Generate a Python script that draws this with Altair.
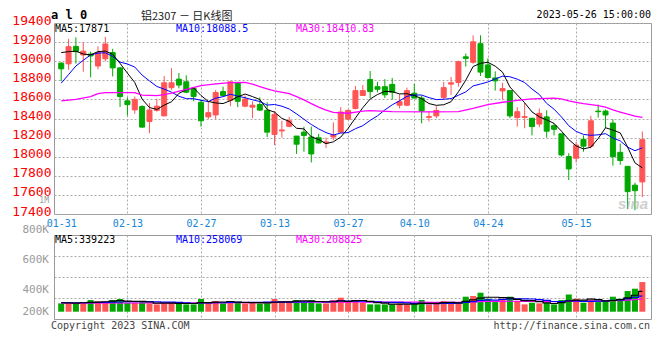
import altair as alt
import pandas as pd
import numpy as np

# ---------------- data ----------------
dates = ["01-31","02-01","02-02","02-03","02-06","02-07","02-08","02-09","02-10","02-13",
         "02-14","02-15","02-16","02-17","02-20","02-21","02-22","02-23","02-24","02-27",
         "02-28","03-01","03-02","03-03","03-06","03-07","03-08","03-09","03-10","03-13",
         "03-14","03-15","03-16","03-17","03-20","03-21","03-22","03-23","03-24","03-27",
         "03-28","03-29","03-30","03-31","04-03","04-04","04-06","04-07","04-10","04-11",
         "04-12","04-13","04-14","04-17","04-18","04-19","04-20","04-21","04-24","04-25",
         "04-26","04-27","04-28","05-04","05-05","05-08","05-09","05-10","05-11","05-12",
         "05-15","05-16","05-17","05-18","05-19","05-22","05-23","05-24","05-25","05-26"]

opens = [18980,18972,19155,19065,19075,18950,19025,19090,18930,18585,
         18490,18525,18369,18485,18427,18723,18812,18784,18716,18570,
         18417,18437,18682,18590,18774,18529,18519,18546,18485,18233,
         18270,18318,18216,18257,18206,18199,18145,18206,18257,18393,
         18505,18641,18808,18733,18733,18757,18539,18539,18665,18614,
         18412,18427,18621,18760,18777,19046,18989,19183,18961,18825,
         18689,18692,18410,18412,18403,18342,18417,18325,18240,18001,
         17984,18182,18110,18478,18478,18352,18046,17899,17702,17736]
highs = [18990,19234,19250,19200,19100,19155,19255,19130,18940,18620,
         18630,18540,18563,18608,18845,18927,18876,18852,18726,18597,
         18580,18699,18733,18791,18784,18641,18580,18621,18570,18478,
         18376,18417,18216,18314,18314,18240,18200,18359,18519,18495,
         18740,18750,18897,18784,18812,18825,18655,18723,18764,18641,
         18478,18529,18784,18835,19006,19080,19271,19271,19029,18893,
         18774,18692,18519,18563,18403,18505,18485,18349,18240,18036,
         18155,18223,18427,18546,18495,18393,18138,17899,17729,18264]
lows = [18790,18911,18975,18890,18830,18915,19000,18840,18520,18430,
        18450,18305,18247,18472,18427,18699,18716,18665,18580,18315,
        18393,18393,18641,18529,18519,18519,18403,18478,18206,18121,
        18199,18308,18029,18052,17940,18138,18090,18172,18257,18383,
        18495,18641,18614,18675,18614,18597,18505,18529,18614,18349,
        18369,18403,18597,18648,18733,18944,18972,18846,18818,18692,
        18597,18403,18315,18298,18223,18308,18199,18223,18001,17756,
        17940,18052,18086,18410,18301,17906,17916,17450,17440,17576]
closes = [18920,19152,19100,19105,19055,19090,19180,18930,18630,18545,
          18600,18310,18489,18529,18774,18774,18750,18675,18631,18376,
          18461,18672,18641,18784,18580,18604,18539,18488,18257,18444,
          18280,18376,18131,18223,18029,18144,18155,18229,18468,18485,
          18692,18692,18682,18706,18648,18675,18577,18692,18614,18478,
          18420,18485,18723,18774,18995,19029,19203,18886,18829,18794,
          18713,18427,18471,18420,18315,18454,18267,18287,18018,17872,
          18121,18110,18376,18471,18437,18001,17960,17634,17644,18178]
volumes = [140000,140000,140000,162000,196000,174000,162000,196000,213000,151000,
           151000,162000,140000,123000,140000,162000,140000,123000,123000,213000,
           162000,179000,140000,162000,162000,140000,162000,140000,140000,213000,
           174000,162000,196000,162000,196000,140000,140000,196000,235000,162000,
           196000,151000,123000,123000,123000,123000,140000,123000,123000,196000,
           123000,140000,179000,140000,162000,252000,263000,319000,218000,162000,
           218000,252000,179000,123000,151000,140000,151000,123000,196000,291000,
           218000,151000,196000,162000,179000,252000,218000,347000,386000,498000]

# moving-average values read where the visible closes cannot give them
ma5_head = [19090, 19100, 19105, 19075]
ma10_head = [18770, 18860, 18950, 19010, 19065, 19085, 19088, 19050, 18990]
ma30_idx = [0, 2, 4, 5, 6, 10, 11, 13, 14, 15, 17, 19, 21, 23, 25, 26, 27, 28, 29, 31,
            32, 33, 34, 35, 36, 37, 39, 41, 42, 45, 50, 54, 56, 58, 60, 62, 64, 67, 68, 69,
            70, 71, 72, 73, 74, 75, 76, 77, 78, 79]
ma30_val = [18585, 18600, 18630, 18660, 18670, 18670, 18645, 18640, 18650, 18665,
            18706, 18745, 18762, 18775, 18778, 18760, 18735, 18710, 18690, 18660,
            18630, 18595, 18555, 18520, 18488, 18465, 18455, 18478, 18482, 18472,
            18470, 18472, 18505, 18546, 18570, 18590, 18605, 18614, 18605, 18585,
            18570, 18555, 18545, 18535, 18520, 18490, 18468, 18445, 18425, 18411]
vma5_head = [150000, 148000, 145000, 150000]
vma10_head = [152000, 150000, 150000, 150000, 152000, 155000, 157000, 160000, 163000]
vma30_head_idx = [0, 14, 28]
vma30_head_val = [142000, 146000, 152000]

tick_dates = ["01-31", "02-13", "02-27", "03-13", "03-27", "04-10", "04-24", "05-15"]
price_ticks = [17400, 17600, 17800, 18000, 18200, 18400, 18600, 18800, 19000, 19200, 19400]
vol_lab_text = ["1M", "800K", "600K", "400K"]
vol_lab_vals = [1000000, 800000, 600000, 400000]
vol_lab_dy = [-1.5, -2, -2, -2]
vol_lab_size = [8, 11, 11, 11]

# ---------------- tables ----------------
n = len(dates)
df = pd.DataFrame({"idx": range(n), "date": dates, "open": opens, "high": highs,
                   "low": lows, "close": closes, "vol": volumes})
df["dir"] = np.where(df["close"] >= df["open"], "up", "down")
ma5 = df["close"].rolling(5).mean().to_numpy()
ma5[:4] = ma5_head
ma10 = df["close"].rolling(10).mean().to_numpy()
ma10[:9] = ma10_head
df["ma5"] = ma5
df["ma10"] = ma10
vma5 = df["vol"].rolling(5).mean().to_numpy()
vma5[:4] = vma5_head
vma10 = df["vol"].rolling(10).mean().to_numpy()
vma10[:9] = vma10_head
df["vma5"] = vma5
df["vma10"] = vma10
vma30_roll = df["vol"].rolling(30).mean()
vma30_df = pd.concat([
    pd.DataFrame({"idx": vma30_head_idx, "v": vma30_head_val}),
    pd.DataFrame({"idx": df["idx"][29:], "v": vma30_roll[29:]}),
], ignore_index=True)
ma30_df = pd.DataFrame({"idx": ma30_idx, "v": ma30_val})
tick_idx = [dates.index(d) for d in tick_dates]

# ---------------- styling ----------------
RED = "#FF5555"
GREEN = "#00A800"
GRID = "#ababab"
MONO = "DejaVu Sans Mono"
W = 597
H = 191
VH = 84

label_expr = " : ".join(f"datum.value == {i} ? '{dates[i]}'" for i in tick_idx) + " : ''"
grid_op = {"condition": {"test": "datum.value == 0", "value": 0}, "value": 1}

xscale = alt.Scale(domain=[-0.3, 79.5], nice=False, zero=False)
yscale = alt.Scale(domain=[17400, 19400], nice=False, zero=False)
color = alt.Color("dir:N", scale=alt.Scale(domain=["up", "down"], range=[RED, GREEN]), legend=None)
stroke = alt.Stroke("dir:N", scale=alt.Scale(domain=["up", "down"], range=[RED, GREEN]), legend=None)

xaxis_main = alt.Axis(values=tick_idx, labelExpr=label_expr, grid=True, gridDash=[2, 2],
                      gridColor=GRID, gridOpacity=grid_op, ticks=False, domain=False,
                      labelColor="#1585D8", labelFont=MONO, labelFontSize=10, labelPadding=4,
                      labelFlush=False, labelOverlap=False, title=None)
yaxis_main = alt.Axis(values=price_ticks, format="d", grid=True, gridDash=[2, 2], gridColor=GRID,
                      ticks=False, domain=False, labelColor="#FF0000", labelFont=MONO,
                      labelFontSize=13, labelPadding=3, labelOffset=-3, minExtent=45, maxExtent=45,
                      labelOverlap=False, labelFlush=False, title=None)
X = alt.X("idx:Q", scale=xscale, axis=xaxis_main)


def txt(text, x, y, col, size, align="left", font=MONO, weight="normal", **kw):
    return alt.Chart(pd.DataFrame({"t": [text]})).mark_text(
        align=align, baseline="middle", font=font, fontSize=size, fontWeight=weight,
        color=col, **kw).encode(x=alt.value(x), y=alt.value(y), text="t:N")


wicks = alt.Chart(df).mark_rule(strokeWidth=1).encode(
    x=X, y=alt.Y("low:Q", scale=yscale, axis=yaxis_main), y2="high:Q", color=color)
bodies = alt.Chart(df).mark_bar(size=5, strokeWidth=1).encode(
    x=X, y=alt.Y("open:Q", scale=yscale, axis=yaxis_main), y2="close:Q",
    color=color, stroke=stroke)
l5 = alt.Chart(df).mark_line(color="#000000", strokeWidth=1).encode(
    x=X, y=alt.Y("ma5:Q", scale=yscale, axis=yaxis_main))
l10 = alt.Chart(df).mark_line(color="#0000FF", strokeWidth=1).encode(
    x=X, y=alt.Y("ma10:Q", scale=yscale, axis=yaxis_main))
l30 = alt.Chart(ma30_df).mark_line(color="#FF00FF", strokeWidth=1.3).encode(
    x=X, y=alt.Y("v:Q", scale=yscale, axis=yaxis_main))

main = alt.layer(
    wicks, bodies, l10, l5, l30,
    txt("MA5:17871", 1, 6, "#000000", 10),
    txt("MA10:18088.5", 122, 6, "#0000FF", 10),
    txt("MA30:18410.83", 242, 6, "#FF00FF", 10),
    txt("a l 0", -3, -8, "#000000", 12, weight="bold"),
    txt("铝2307 － 日K线图", 87, -6.5, "#222222", 11, font="Noto Sans CJK SC"),
    txt("2023-05-26 15:00:00", W, -8, "#000000", 10, align="right"),
    txt("sina", W - 18, H - 10, "#b0b0b0", 15, align="center", font="Liberation Sans",
        weight="bold", fontStyle="italic", opacity=0.6),
).properties(width=W, height=H)

# ---------------- volume panel ----------------
vscale = alt.Scale(domain=[-122600, 1288600], nice=False, zero=False)
yaxis_vol = alt.Axis(values=[230200, 583000, 935800], grid=True, gridDash=[2, 2],
                     gridColor=GRID, labels=False, ticks=False, domain=False, title=None,
                     minExtent=45, maxExtent=45)
xaxis_vol = alt.Axis(values=tick_idx, grid=True, gridDash=[2, 2], gridColor=GRID,
                     gridOpacity=grid_op, labels=False, ticks=False, domain=False, title=None)
XV = alt.X("idx:Q", scale=xscale, axis=xaxis_vol)

vbars = alt.Chart(df).mark_bar(size=6).encode(
    x=XV, y=alt.Y("vol:Q", scale=vscale, axis=yaxis_vol), y2=alt.datum(0), color=color)
vl5 = alt.Chart(df).mark_line(color="#000000", strokeWidth=1.2, interpolate="step").encode(
    x=XV, y=alt.Y("vma5:Q", scale=vscale, axis=yaxis_vol))
vl10 = alt.Chart(df).mark_line(color="#0000FF", strokeWidth=1.2, interpolate="step").encode(
    x=XV, y=alt.Y("vma10:Q", scale=vscale, axis=yaxis_vol))
vl30 = alt.Chart(vma30_df).mark_line(color="#FF00FF", strokeWidth=1.2).encode(
    x=XV, y=alt.Y("v:Q", scale=vscale, axis=yaxis_vol))
vinner = alt.layer(vbars, vl30, vl10, vl5)

lab_scale = alt.Scale(domain=[220000, 780000], nice=False, zero=False)
vlab_layers = []
for t, v, d, s in zip(vol_lab_text, vol_lab_vals, vol_lab_dy, vol_lab_size):
    vlab_layers.append(alt.Chart(pd.DataFrame({"lab": [t], "v": [v]})).mark_text(
        align="right", baseline="middle", font=MONO, fontSize=s, color="#9a9a9a", dy=d).encode(
        x=alt.value(-5), y=alt.Y("v:Q", scale=lab_scale, axis=None), text="lab:N"))
vlab200 = alt.Chart(pd.DataFrame({"lab": ["200K"], "v": [200000]})).mark_text(
    align="right", baseline="middle", font=MONO, fontSize=11, color="#9a9a9a", dy=-10).encode(
    x=alt.value(-5), y=alt.Y("v:Q", scale=lab_scale, axis=None), text="lab:N")

vol = alt.layer(
    vinner, *vlab_layers, vlab200,
    txt("MA5:339223", 1, 5, "#000000", 10),
    txt("MA10:258069", 122, 5, "#0000FF", 10),
    txt("MA30:208825", 242, 5, "#FF00FF", 10),
    txt("Copyright 2023 SINA.COM", -3, VH + 7, "#444444", 10),
    txt("http://finance.sina.com.cn", W - 1, VH + 7, "#444444", 10, align="right"),
).resolve_scale(y="independent").properties(width=W, height=VH)

chart = alt.vconcat(main, vol, spacing=21, bounds="flush").properties(
    padding=0, background="white"
).configure_view(stroke="#9a9a9a", strokeWidth=1)

chart.save("out.html", embed_options={"renderer": "svg", "actions": False})
